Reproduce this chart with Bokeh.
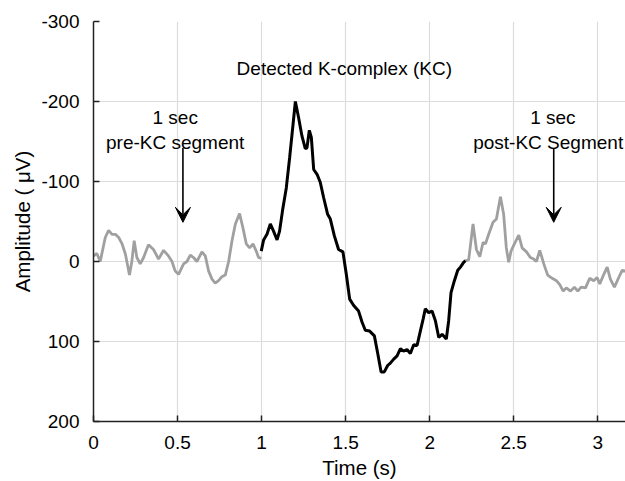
from bokeh.plotting import figure
from bokeh.models import Range1d, FixedTicker, Arrow, VeeHead, Label
from bokeh.embed import file_html
from bokeh.resources import INLINE

# ---- data (time in s, amplitude in microvolts) ----
pre_t = [0.0, 0.02, 0.04, 0.07, 0.09, 0.11, 0.13, 0.15, 0.17, 0.19, 0.214, 0.228, 0.242,
         0.258, 0.278, 0.298, 0.327, 0.357, 0.387, 0.417, 0.446, 0.467, 0.486, 0.506,
         0.536, 0.556, 0.576, 0.595, 0.615, 0.645, 0.665, 0.685, 0.705, 0.724, 0.744,
         0.764, 0.784, 0.804, 0.824, 0.844, 0.869, 0.889, 0.909, 0.929, 0.949, 0.968,
         0.982, 0.998]
pre_v = [-7, -10, 0, -30, -39, -34, -34, -30, -22, -9, 17, 0, -26,
         -5, 3, -5, -21, -15, -3, -14, -7, 0, 12, 16,
         3, 0, -8, -5, 0, -12, -7, 12, 22, 27, 24,
         19, 17, 0, -26, -47, -60, -42, -22, -17, -22, -13,
         -5, -4]

kc_t = [0.998, 1.012, 1.032, 1.052, 1.071, 1.092, 1.107, 1.127, 1.147, 1.167, 1.187,
        1.201, 1.220, 1.240, 1.260, 1.270, 1.284, 1.296, 1.310, 1.330, 1.349, 1.369,
        1.393, 1.409, 1.433, 1.458, 1.484, 1.504, 1.524, 1.548, 1.577, 1.598, 1.617,
        1.643, 1.671, 1.691, 1.711, 1.730, 1.750, 1.766, 1.786, 1.806, 1.826, 1.845,
        1.865, 1.885, 1.905, 1.925, 1.940, 1.961, 1.974, 1.994, 2.014, 2.034, 2.054,
        2.074, 2.099, 2.113, 2.127, 2.147, 2.167, 2.183, 2.202, 2.213]
kc_v = [-13, -27, -34, -47, -38, -27, -38, -67, -92, -130, -171,
        -200, -180, -157, -141, -142, -164, -155, -115, -109, -99, -80,
        -59, -53, -32, -15, -12, 16, 47, 55, 62, 76, 86,
        87, 93, 115, 138, 138, 130, 127, 122, 118, 109, 112,
        110, 115, 104, 105, 91, 72, 59, 64, 62, 74, 95,
        91, 97, 74, 39, 24, 11, 7, 1, -1]

post_t = [2.213, 2.232, 2.258, 2.278, 2.298, 2.318, 2.332, 2.351, 2.377, 2.397, 2.421,
          2.440, 2.456, 2.470, 2.484, 2.504, 2.530, 2.550, 2.576, 2.599, 2.619, 2.635,
          2.655, 2.679, 2.702, 2.729, 2.754, 2.774, 2.794, 2.813, 2.838, 2.861, 2.881,
          2.901, 2.927, 2.952, 2.976, 2.996, 3.012, 3.036, 3.056, 3.075, 3.099, 3.125,
          3.145, 3.165]
post_v = [-1, -2, -47, -15, -6, -24, -22, -34, -49, -53, -81,
          -59, -17, 1, -13, -22, -33, -17, -12, -5, -3, 0,
          -14, 3, 17, 21, 24, 29, 37, 33, 37, 32, 37,
          32, 33, 21, 24, 20, 28, 16, 7, 22, 32, 20,
          11, 12]

x_ticks = [0, 0.5, 1, 1.5, 2, 2.5, 3]
x_tick_labels = ["0", "0.5", "1", "1.5", "2", "2.5", "3"]
y_ticks = [-300, -200, -100, 0, 100, 200]
y_tick_labels = ["-300", "-200", "-100", "0", "100", "200"]

FONT = "Liberation Sans"

p = figure(width=625, height=481, output_backend="svg", toolbar_location=None,
           x_range=Range1d(0, 3.165), y_range=Range1d(200, -300),
           min_border_left=93, min_border_right=0, min_border_top=21,
           min_border_bottom=60)
p.outline_line_color = None
p.background_fill_color = "white"
p.border_fill_color = "white"

p.line(pre_t, pre_v, line_color="#a0a0a0", line_width=2.8)
p.line(post_t, post_v, line_color="#a0a0a0", line_width=2.8)
p.line(kc_t, kc_v, line_color="black", line_width=3)

for ax in (p.xaxis[0], p.yaxis[0]):
    ax.axis_line_color = "#222222"
    ax.axis_line_width = 1.5
    ax.major_tick_in = 6
    ax.major_tick_out = 0
    ax.major_tick_line_color = "#222222"
    ax.major_tick_line_width = 1.5
    ax.minor_tick_line_color = None
    ax.major_label_text_font = FONT
    ax.major_label_text_font_size = "19px"
    ax.major_label_text_color = "black"
    ax.axis_label_text_font = FONT
    ax.axis_label_text_font_size = "20.5px"
    ax.axis_label_text_font_style = "normal"
    ax.axis_label_text_color = "black"

p.xaxis.ticker = FixedTicker(ticks=x_ticks)
p.xaxis.major_label_overrides = dict(zip(x_ticks, x_tick_labels))
p.yaxis.ticker = FixedTicker(ticks=y_ticks)
p.yaxis.major_label_overrides = dict(zip(y_ticks, y_tick_labels))
p.xaxis.axis_label = "Time (s)"
p.yaxis.axis_label = "Amplitude ( μV)"
p.xaxis.major_label_standoff = 14
p.xaxis.axis_label_standoff = 4
p.yaxis.major_label_standoff = 14
p.yaxis.axis_label_standoff = 4

p.xgrid.grid_line_color = "#dcdcdc"
p.ygrid.grid_line_color = "#dcdcdc"
p.xgrid.grid_line_width = 1.2
p.ygrid.grid_line_width = 1.2

def lab(x, y, text):
    p.add_layout(Label(x=x, y=y, text=text, text_align="center",
                       text_baseline="alphabetic", text_font=FONT,
                       text_font_size="19px", text_color="black"))

lab(1.492, -240.7, "Detected K-complex (KC)")
lab(0.486, -180.4, "1 sec")
lab(0.486, -149.0, "pre-KC segment")
lab(2.733, -180.4, "1 sec")
lab(2.705, -149.0, "post-KC Segment")

for xa in (0.532, 2.738):
    p.add_layout(Arrow(end=VeeHead(size=15, fill_color="black", line_color="black"),
                       x_start=xa, y_start=-142, x_end=xa, y_end=-49,
                       line_color="black", line_width=1.6))

open("out.html", "w").write(file_html(p, INLINE))
